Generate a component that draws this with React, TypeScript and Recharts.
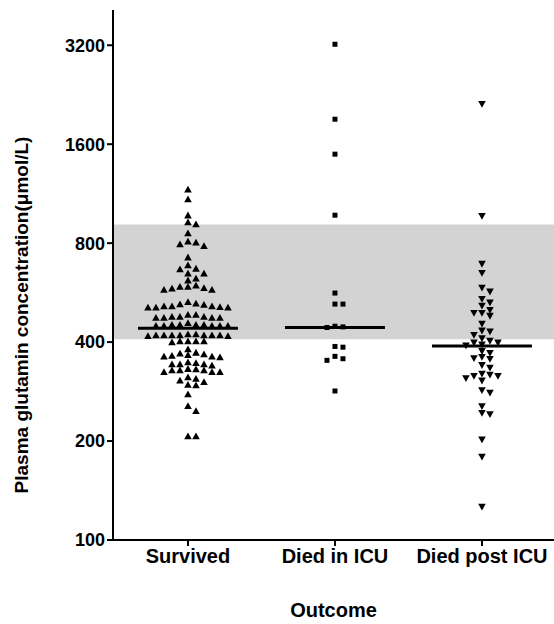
import React from 'react';
import { ScatterChart, Scatter, XAxis, YAxis, ReferenceArea, ReferenceLine, Label } from 'recharts';

const categories = ['Survived', 'Died in ICU', 'Died post ICU'];
const yTicks = [100, 200, 400, 800, 1600, 3200];
const yDomain = [100, 4096];

const survived = [
  1167, 1089, 973, 927, 914, 858, 810, 795, 785, 805, 725, 686, 667, 648, 648, 670, 617, 625,
  590, 585, 578, 578, 583, 590, 595,
  525, 515, 512, 510, 510, 515, 510, 515, 520, 522, 530,
  485, 478, 475, 475, 478, 475, 475, 478, 485,
  458, 452, 449, 449, 449, 452, 449, 449, 452, 452,
  423, 423, 418, 420, 418, 420, 420, 420, 420, 420, 420,
  403, 403, 400, 403, 403,
  381,
  368, 364, 362, 360, 362, 366, 370, 372,
  348, 343, 340, 343, 343, 346,
  329, 325, 329, 329, 331, 325, 325, 332,
  313, 310, 306, 303,
  296, 297,
  278, 256, 247, 207, 207,
];
const diedInIcu = [3222, 1906, 1492, 973, 564, 522, 522, 447, 445, 443, 388, 386, 362, 356, 352, 284];
const diedPostIcu = [
  2117, 966, 691, 648, 585, 569, 540, 527, 515, 500, 490, 490, 480, 454, 433, 430, 420, 410,
  403, 398, 398, 393, 390, 375, 370, 360, 357, 355, 340, 334, 320, 318, 315, 315, 310, 305,
  285, 280, 255, 243, 241, 202, 179, 126,
];
const medians = [441, 443, 389];
const normalRange = [408, 912];

// chart geometry
const W = 554;
const H = 624;
const AXIS_W = 113;
const XAXIS_H = 84;
const TOP = 10;
const X_DOMAIN = [0.49, 3.49];
const plotW = W - AXIS_W;
const plotH = H - TOP - XAXIS_H;
const pxPerUnitX = plotW / (X_DOMAIN[1] - X_DOMAIN[0]);
const pxPerDoubling = plotH / Math.log2(yDomain[1] / yDomain[0]);
const COL_PX = 8;
const MIN_GAP = 5.5;
const HALF_MEDIAN = 0.34;

// simple beeswarm: spread points that would overlap vertically into side columns
function swarm(values: number[], center: number) {
  const placed: { off: number; py: number }[] = [];
  return [...values]
    .sort((a, b) => b - a)
    .map((v) => {
      const py = Math.log2(v) * pxPerDoubling;
      let off = 0;
      for (let i = 0; i < 40; i++) {
        const o = i === 0 ? 0 : i % 2 ? (i + 1) / 2 : -i / 2;
        if (!placed.some((p) => p.off === o && Math.abs(p.py - py) < MIN_GAP)) {
          off = o;
          break;
        }
      }
      placed.push({ off, py });
      return { x: center + (off * COL_PX) / pxPerUnitX, y: v };
    });
}

const TriUp = (p: any) => (
  <polygon points={`${p.cx - 3.8},${p.cy + 3.2} ${p.cx + 3.8},${p.cy + 3.2} ${p.cx},${p.cy - 3.6}`} fill="#000" />
);
const TriDown = (p: any) => (
  <polygon points={`${p.cx - 3.8},${p.cy - 3.2} ${p.cx + 3.8},${p.cy - 3.2} ${p.cx},${p.cy + 3.6}`} fill="#000" />
);
const Square = (p: any) => <rect x={p.cx - 2.5} y={p.cy - 2.5} width={5} height={5} fill="#000" />;

const font = 'Arial, "Liberation Sans", Helvetica, sans-serif';
const yTickStyle = { fill: '#000', fontSize: 18, fontWeight: 'bold' as const, fontFamily: font };
const xTickStyle = { ...yTickStyle, fontSize: 20 };

export default function App() {
  const groups = [survived, diedInIcu, diedPostIcu].map((vals, i) => swarm(vals, i + 1));

  return (
    <div style={{ width: W, height: H, background: '#fff' }}>
      <style>{'body{margin:0}'}</style>
      <ScatterChart width={W} height={H} margin={{ top: TOP, right: 0, bottom: 0, left: 0 }} style={{ fontFamily: font }}>
        <XAxis
          type="number"
          dataKey="x"
          domain={X_DOMAIN}
          ticks={[1, 2, 3]}
          allowDataOverflow
          tickFormatter={(v: number) => categories[Math.round(v) - 1]}
          height={XAXIS_H}
          stroke="#000"
          strokeWidth={2}
          tickSize={6}
          tickMargin={3}
          tick={xTickStyle}
          interval={0}
        >
          <Label value="Outcome" position="insideBottom" offset={7} style={xTickStyle} />
        </XAxis>
        <YAxis
          type="number"
          dataKey="y"
          scale="log"
          domain={yDomain}
          ticks={yTicks}
          allowDataOverflow
          width={AXIS_W}
          stroke="#000"
          strokeWidth={2}
          tickSize={6}
          tickMargin={2}
          tick={yTickStyle}
          interval={0}
        >
          <Label
            content={() => (
              <text
                transform="translate(21,315) rotate(-90)"
                textAnchor="middle"
                dominantBaseline="central"
                style={{ ...yTickStyle, fontSize: 19 }}
              >
                Plasma glutamin concentration(μmol/L)
              </text>
            )}
          />
        </YAxis>
        <ReferenceArea y1={normalRange[0]} y2={normalRange[1]} fill="#d3d3d3" fillOpacity={1} stroke="none" ifOverflow="hidden" />
        <Scatter data={groups[0]} shape={TriUp} isAnimationActive={false} />
        <Scatter data={groups[1]} shape={Square} isAnimationActive={false} />
        <Scatter data={groups[2]} shape={TriDown} isAnimationActive={false} />
        {medians.map((m, i) => (
          <ReferenceLine
            key={i}
            segment={[
              { x: i + 1 - HALF_MEDIAN, y: m },
              { x: i + 1 + HALF_MEDIAN, y: m },
            ]}
            stroke="#000"
            strokeWidth={3}
          />
        ))}
      </ScatterChart>
    </div>
  );
}
